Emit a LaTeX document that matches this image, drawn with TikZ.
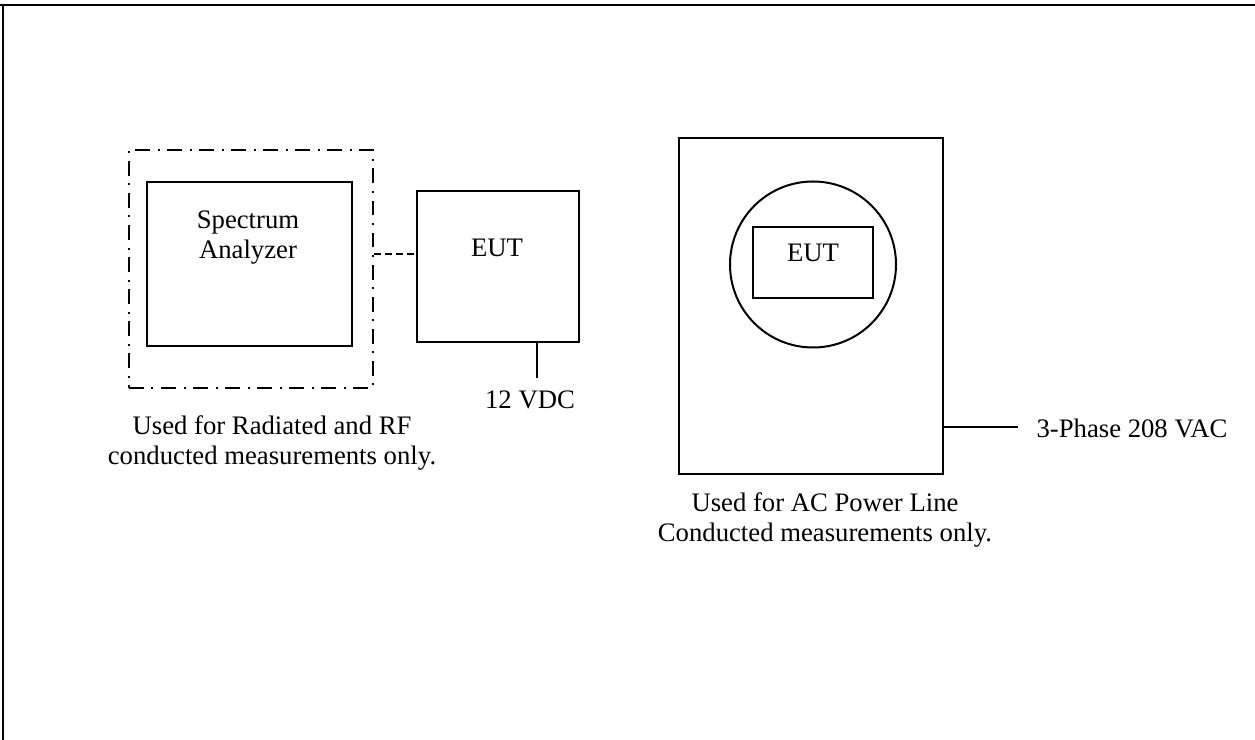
\documentclass[tikz,border=0pt]{standalone}
\usepackage{fontspec}
\setmainfont{Liberation Serif}
\usetikzlibrary{positioning}
\newlength\pxu
\setlength\pxu{0.4494pt}

\begin{document}
\begin{tikzpicture}[
  x=\pxu, y=-\pxu,
  font=\fontsize{12}{13.5}\selectfont,
  box/.style={draw, line width=0.9pt, inner sep=0pt},
  txt/.style={align=center, inner sep=0pt},
  link/.style={line width=0.9pt},
  dashdot/.style={dash pattern=on 6.7pt off 3.4pt on 0.9pt off 3.4pt}
]
\useasboundingbox (0,0) rectangle (1255,740);
% page frame
\draw[line width=0.9pt] (0,5) -- (1255,5);
\draw[line width=0.45pt] (3,5) -- (3,740);

% radiated / RF conducted setup
\node[box, dashdot, minimum width=244\pxu, minimum height=238\pxu] (shield) at (251,269) {};
\node[box, minimum width=205\pxu, minimum height=164\pxu] (analyzer) at (249.5,264) {};
\node[txt] (analyzertext) at (248,238) {Spectrum\\Analyzer};
\node[box, minimum width=162\pxu, minimum height=151\pxu] (eutA) at (498,266.5) {};
\node[txt] (eutAtext) at (497,248) {EUT};
\coordinate (tap) at (395,254);
\draw[link, dash pattern=on 3pt off 2pt] (shield.east |- tap) -- (eutA.west |- tap);
\coordinate (dcend) at (537,378);
\draw[link] (eutA.south -| dcend) -- (dcend);
\node[txt] (dc) at (530,400) {12 VDC};
\node[txt] (capA) at (272,443) {Used for Radiated and RF\\conducted measurements only.};

% AC power line conducted setup
\node[box, minimum width=264\pxu, minimum height=336\pxu] (room) at (811,306) {};
\node[draw, circle, line width=0.9pt, inner sep=0pt, minimum size=166\pxu] (turntable) at (813,264.5) {};
\node[box, minimum width=120\pxu, minimum height=71\pxu] (eutB) at (813,262.5) {};
\node[txt] (eutBtext) at (813,253) {EUT};
\coordinate (acend) at (1018,427);
\draw[link] (room.east |- acend) -- (acend);
\node[txt] (ac) at (1132,428) {3-Phase 208 VAC};
\node[txt] (capB) at (825,520) {Used for AC Power Line\\Conducted measurements only.};
\end{tikzpicture}
\end{document}
